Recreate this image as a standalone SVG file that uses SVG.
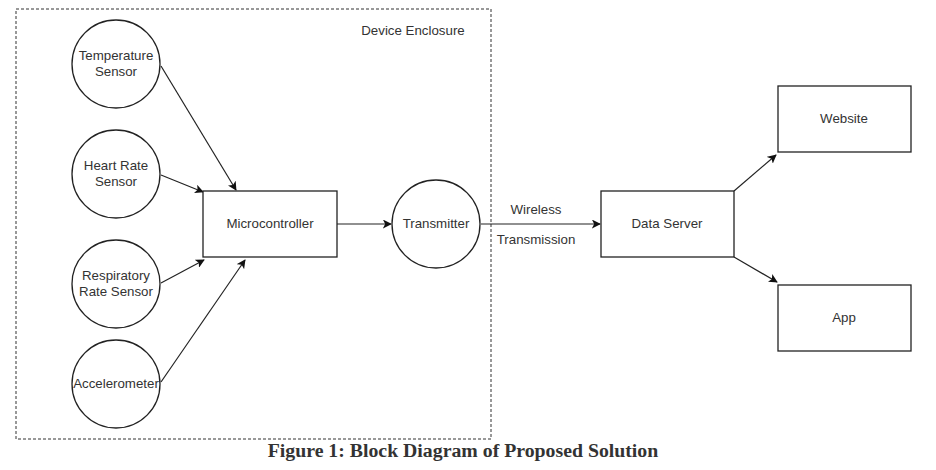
<svg xmlns="http://www.w3.org/2000/svg" width="936" height="470" viewBox="0 0 936 470">
<defs>
<marker id="ah" viewBox="0 0 10 10" refX="9" refY="5" markerWidth="9" markerHeight="9" markerUnits="userSpaceOnUse" orient="auto">
<path d="M0,0 L10,5 L0,10 L2.5,5 Z" fill="#111"/>
</marker>
</defs>
<style>
.shape{fill:#fff;stroke:#222;stroke-width:1.3}
.lbl{font-family:"Liberation Sans",Arial,sans-serif;font-size:13.3px;fill:#333;text-anchor:middle}
.conn{stroke:#222;stroke-width:1.2;fill:none;marker-end:url(#ah)}
.cap{font-family:"Liberation Serif","Times New Roman",serif;font-size:19.8px;font-weight:bold;fill:#333;text-anchor:middle}
</style>
<rect width="936" height="470" fill="#fff"/>
<g id="enclosure">
<rect x="16" y="9" width="475" height="430" fill="none" stroke="#333" stroke-width="1" stroke-dasharray="3,2"/>
<text class="lbl" x="413" y="35">Device Enclosure</text>
</g>
<g id="connectors">
<line class="conn" x1="161" y1="66" x2="236" y2="190"/>
<line class="conn" x1="161" y1="175" x2="203" y2="192"/>
<line class="conn" x1="161" y1="283" x2="204" y2="260"/>
<line class="conn" x1="161" y1="382" x2="245" y2="260"/>
<line class="conn" x1="337" y1="224" x2="391" y2="224"/>
<line class="conn" x1="481" y1="224" x2="600" y2="224"/>
<line class="conn" x1="734" y1="191" x2="776" y2="155"/>
<line class="conn" x1="734" y1="257" x2="777" y2="282"/>
<text class="lbl" x="536" y="214">Wireless</text>
<text class="lbl" x="536" y="244">Transmission</text>
</g>
<g id="temperature">
<circle class="shape" cx="116" cy="64" r="44"/>
<text class="lbl" x="116" y="60">Temperature</text>
<text class="lbl" x="116" y="76">Sensor</text>
</g>
<g id="heartrate">
<circle class="shape" cx="116" cy="174" r="44"/>
<text class="lbl" x="116" y="170">Heart Rate</text>
<text class="lbl" x="116" y="186">Sensor</text>
</g>
<g id="respiratory">
<circle class="shape" cx="116" cy="284" r="44"/>
<text class="lbl" x="116" y="280">Respiratory</text>
<text class="lbl" x="116" y="296">Rate Sensor</text>
</g>
<g id="accelerometer">
<circle class="shape" cx="116" cy="384" r="44"/>
<text class="lbl" x="116" y="388">Accelerometer</text>
</g>
<g id="microcontroller">
<rect class="shape" x="203" y="191" width="134" height="66"/>
<text class="lbl" x="270" y="228">Microcontroller</text>
</g>
<g id="transmitter">
<circle class="shape" cx="436" cy="224" r="44"/>
<text class="lbl" x="436" y="228">Transmitter</text>
</g>
<g id="dataserver">
<rect class="shape" x="601" y="191" width="133" height="66"/>
<text class="lbl" x="667" y="228">Data Server</text>
</g>
<g id="website">
<rect class="shape" x="778" y="86" width="133" height="66"/>
<text class="lbl" x="844" y="123">Website</text>
</g>
<g id="app">
<rect class="shape" x="778" y="285" width="133" height="66"/>
<text class="lbl" x="844" y="322">App</text>
</g>
<text class="cap" x="463" y="457">Figure 1: Block Diagram of Proposed Solution</text>
</svg>
